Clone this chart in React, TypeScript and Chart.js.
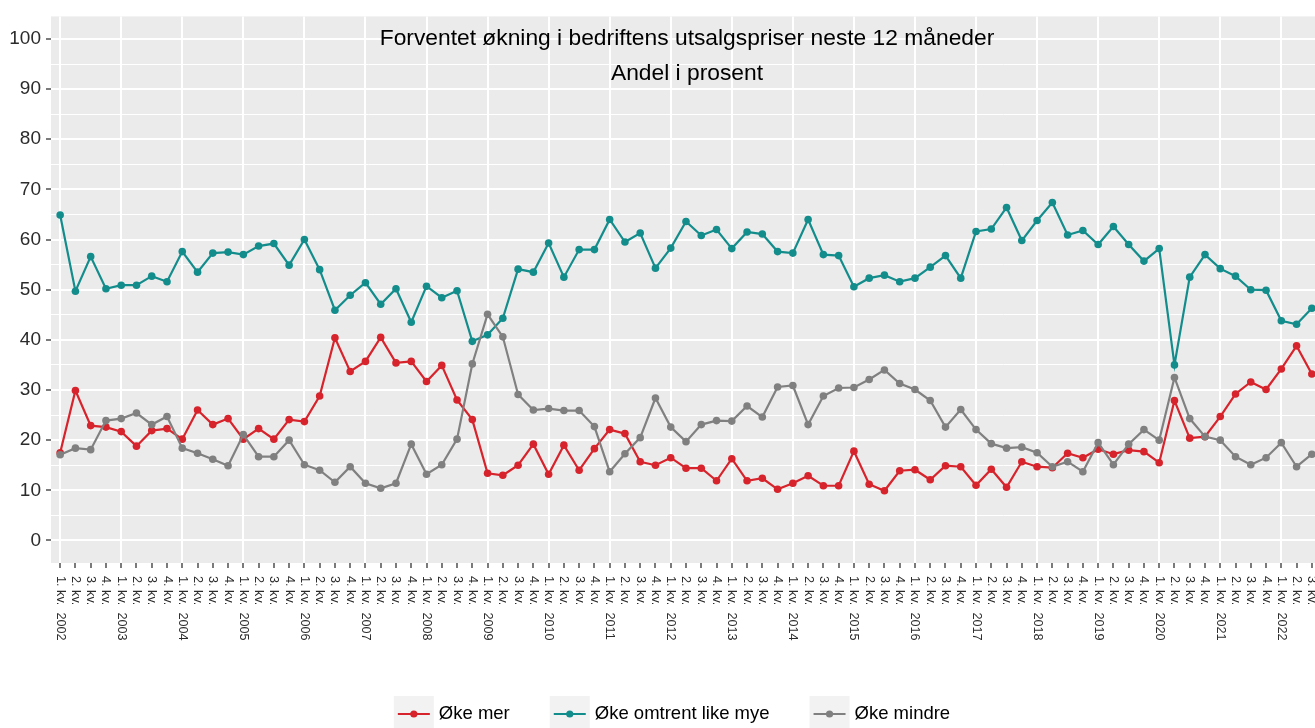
import React, { useEffect, useRef } from 'react';
import { Chart, registerables } from 'chart.js';

Chart.register(...registerables);

// ---------- data ----------
const years = [2002, 2003, 2004, 2005, 2006, 2007, 2008, 2009, 2010, 2011, 2012, 2013, 2014, 2015, 2016, 2017, 2018, 2019, 2020, 2021, 2022];
const quarterNames = ['1. kv.', '2. kv.', '3. kv.', '4. kv.'];

const okeMer = [
  17.5, 29.9, 22.9, 22.6, 21.7, 18.8, 21.9, 22.3, 20.2, 26.0,
  23.1, 24.3, 20.2, 22.3, 20.2, 24.1, 23.7, 28.8, 40.4, 33.7,
  35.7, 40.5, 35.4, 35.7, 31.7, 34.9, 28.0, 24.1, 13.4, 13.0,
  15.0, 19.2, 13.2, 19.0, 14.0, 18.3, 22.1, 21.3, 15.7, 15.0,
  16.5, 14.4, 14.4, 11.9, 16.3, 11.9, 12.4, 10.2, 11.4, 12.9,
  10.9, 10.9, 17.8, 11.2, 9.9, 13.9, 14.1, 12.1, 14.9, 14.7,
  11.0, 14.2, 10.6, 15.7, 14.7, 14.5, 17.4, 16.5, 18.2, 17.2,
  18.0, 17.7, 15.5, 27.9, 20.4, 20.7, 24.7, 29.2, 31.6, 30.1,
  34.2, 38.8, 33.2,
];

const okeOmtrent = [
  64.9, 49.7, 56.6, 50.2, 50.9, 50.9, 52.7, 51.6, 57.6, 53.5,
  57.3, 57.5, 57.0, 58.7, 59.2, 54.9, 60.0, 54.0, 45.9, 48.9,
  51.4, 47.1, 50.2, 43.5, 50.7, 48.4, 49.8, 39.7, 41.0, 44.3,
  54.1, 53.5, 59.3, 52.5, 58.0, 58.0, 64.0, 59.5, 61.3, 54.3,
  58.3, 63.6, 60.8, 62.0, 58.2, 61.5, 61.1, 57.6, 57.3, 64.0,
  57.0, 56.8, 50.6, 52.3, 52.9, 51.6, 52.3, 54.5, 56.8, 52.3,
  61.6, 62.1, 66.4, 59.8, 63.8, 67.4, 60.9, 61.8, 59.0, 62.6,
  59.0, 55.7, 58.2, 35.0, 52.5, 57.0, 54.2, 52.7, 50.0, 49.9,
  43.8, 43.1, 46.3,
];

const okeMindre = [
  17.1, 18.4, 18.1, 23.9, 24.3, 25.4, 23.1, 24.7, 18.4, 17.4,
  16.2, 14.9, 21.1, 16.7, 16.7, 20.0, 15.1, 14.0, 11.6, 14.7,
  11.4, 10.4, 11.4, 19.2, 13.2, 15.1, 20.2, 35.2, 45.1, 40.6,
  29.1, 26.0, 26.3, 25.9, 25.9, 22.7, 13.7, 17.3, 20.5, 28.4,
  22.6, 19.7, 23.1, 23.9, 23.8, 26.8, 24.6, 30.6, 30.9, 23.1,
  28.8, 30.4, 30.5, 32.1, 34.0, 31.3, 30.1, 27.9, 22.6, 26.1,
  22.1, 19.3, 18.4, 18.6, 17.5, 14.7, 15.7, 13.7, 19.5, 15.1,
  19.2, 22.1, 20.0, 32.5, 24.3, 20.7, 20.0, 16.7, 15.1, 16.5,
  19.5, 14.7, 17.2,
];

const yTickValues = [0, 5, 10, 15, 20, 25, 30, 35, 40, 45, 50, 55, 60, 65, 70, 75, 80, 85, 90, 95, 100];

const seriesLabels = ['Øke mer', 'Øke omtrent like mye', 'Øke mindre'];
const seriesColors = ['#D7232B', '#138C8C', '#808080'];

const titleLines = ['Forventet økning i bedriftens utsalgspriser neste 12 måneder', 'Andel i prosent'];

// categories (tick labels) built from years and quarter names
const categories: string[] = [];
years.forEach((y) => {
  quarterNames.forEach((q, qi) => {
    categories.push(qi === 0 ? `${q}  ${y}` : q);
  });
});
const xLabels = categories.slice(0, okeMer.length);

const FONT = '"Liberation Sans", Arial, Helvetica, sans-serif';
const W = 1345;
const H = 728;

export default function App() {
  const ref = useRef<HTMLCanvasElement | null>(null);

  useEffect(() => {
    if (!ref.current) return;

    const bgPlugin = {
      id: 'panelBg',
      beforeDraw(chart: any) {
        const { ctx, chartArea: a } = chart;
        ctx.save();
        ctx.fillStyle = '#FFFFFF';
        ctx.fillRect(0, 0, chart.width, chart.height);
        ctx.fillStyle = '#EBEBEB';
        ctx.fillRect(a.left, a.top, a.right - a.left, a.bottom - a.top);
        ctx.restore();
      },
    };

    const decorPlugin = {
      id: 'decor',
      afterDraw(chart: any) {
        const { ctx, chartArea: a } = chart;
        const xs = chart.scales.x;
        ctx.save();
        // x tick labels rotated +90deg
        ctx.fillStyle = '#2B2B2B';
        ctx.font = `12.7px ${FONT}`;
        ctx.textAlign = 'left';
        ctx.textBaseline = 'middle';
        xLabels.forEach((lab, i) => {
          const px = xs.getPixelForValue(i);
          ctx.save();
          ctx.translate(px, a.bottom + 13);
          ctx.rotate(Math.PI / 2);
          ctx.fillText(lab, 0, 0);
          ctx.restore();
        });

        // title
        const cx = (a.left + a.right) / 2 + 1;
        ctx.fillStyle = '#000000';
        ctx.font = `22.8px ${FONT}`;
        ctx.textAlign = 'center';
        ctx.textBaseline = 'alphabetic';
        ctx.fillText(titleLines[0], cx, 45);
        ctx.fillText(titleLines[1], cx, 80);

        // legend
        ctx.font = `18.5px ${FONT}`;
        const keyW = 40;
        const keyH = 36;
        const gapKT = 5;
        const gapItems = 40;
        const widths = chart.data.datasets.map((ds: any) => ctx.measureText(ds.label).width);
        const total = widths.reduce((s: number, w: number) => s + w, 0) + chart.data.datasets.length * (keyW + gapKT) + (chart.data.datasets.length - 1) * gapItems;
        let x = 672 - total / 2;
        const cy = 714;
        chart.data.datasets.forEach((ds: any, i: number) => {
          ctx.fillStyle = '#F2F2F2';
          ctx.fillRect(x, cy - keyH / 2, keyW, keyH);
          ctx.strokeStyle = ds.borderColor;
          ctx.lineWidth = 2.2;
          ctx.beginPath();
          ctx.moveTo(x + 4, cy);
          ctx.lineTo(x + keyW - 4, cy);
          ctx.stroke();
          ctx.fillStyle = ds.borderColor;
          ctx.beginPath();
          ctx.arc(x + keyW / 2, cy, 3.6, 0, Math.PI * 2);
          ctx.fill();
          ctx.fillStyle = '#000000';
          ctx.textAlign = 'left';
          ctx.textBaseline = 'middle';
          ctx.fillText(ds.label, x + keyW + gapKT, cy);
          x += keyW + gapKT + widths[i] + gapItems;
        });
        ctx.restore();
      },
    };

    const mk = (vals: number[], idx: number, order: number) => ({
      label: seriesLabels[idx],
      data: vals.map((v, i) => ({ x: i, y: v })),
      borderColor: seriesColors[idx],
      backgroundColor: seriesColors[idx],
      pointBackgroundColor: seriesColors[idx],
      pointBorderWidth: 0,
      pointRadius: 3.8,
      borderWidth: 2.2,
      tension: 0,
      order,
    });

    const chart = new Chart(ref.current, {
      type: 'line',
      data: {
        datasets: [mk(okeMer, 0, 3), mk(okeOmtrent, 1, 2), mk(okeMindre, 2, 1)],
      },
      options: {
        responsive: false,
        animation: false,
        events: [],
        layout: { padding: { top: 12, right: W - 1321, bottom: 0, left: 0 } },
        plugins: {
          legend: { display: false },
          title: { display: false },
          tooltip: { enabled: false },
        },
        scales: {
          x: {
            type: 'linear',
            min: -0.6,
            max: 82.6,
            afterBuildTicks: (s: any) => {
              s.ticks = xLabels.map((_, i) => ({ value: i }));
            },
            afterFit: (s: any) => {
              s.height = H - 563;
            },
            ticks: { display: false, autoSkip: false },
            grid: {
              color: (c: any) => (c.tick && c.tick.value % 4 === 0 ? '#FFFFFF' : 'rgba(0,0,0,0)'),
              lineWidth: 2,
              tickColor: '#333333',
              tickLength: 5,
              tickWidth: 1.3,
              drawTicks: true,
            },
            border: { display: false },
          },
          y: {
            type: 'linear',
            min: -4.5,
            max: 104.5,
            afterBuildTicks: (s: any) => {
              s.ticks = yTickValues.map((v) => ({ value: v }));
            },
            afterFit: (s: any) => {
              s.width = 51;
            },
            ticks: {
              autoSkip: false,
              callback: (v: any) => (Number(v) % 10 === 0 ? String(v) : ''),
              font: { family: FONT, size: 19 },
              color: '#2B2B2B',
              padding: 5,
            },
            grid: {
              color: '#FFFFFF',
              lineWidth: (c: any) => (c.tick && c.tick.value % 10 === 0 ? 2 : 1),
              tickColor: (c: any) => (c.tick && c.tick.value % 10 === 0 ? '#333333' : 'rgba(0,0,0,0)'),
              tickLength: 5,
              tickWidth: 1.3,
            },
            border: { display: false },
          },
        },
      },
      plugins: [bgPlugin, decorPlugin],
    } as any);

    return () => chart.destroy();
  }, []);

  return (
    <div style={{ position: 'fixed', left: 0, top: 0, width: '1315px', height: '728px', overflow: 'hidden', background: '#fff' }}>
      <canvas ref={ref} width={W} height={H} style={{ display: 'block', width: `${W}px`, height: `${H}px` }} />
    </div>
  );
}
